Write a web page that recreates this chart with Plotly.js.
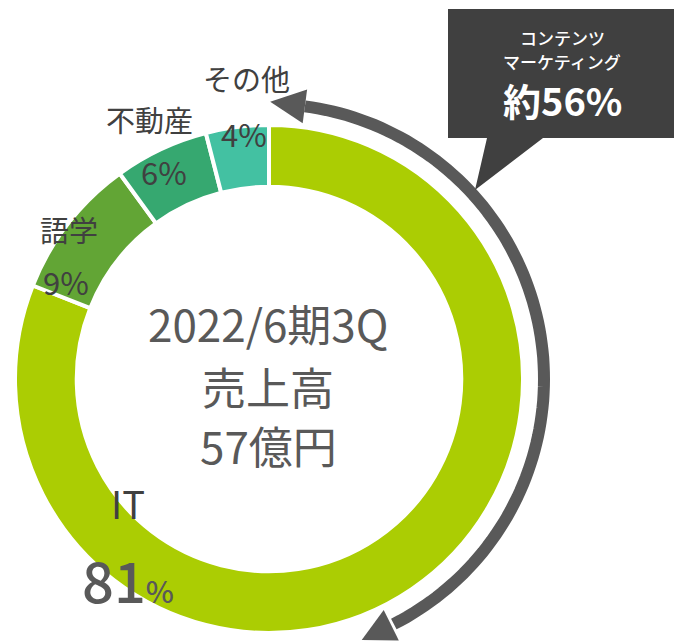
<!DOCTYPE html>
<html>
<head>
<meta charset="utf-8">
<script src="https://cdn.plot.ly/plotly-3.0.1.min.js"></script>
<style>
  html, body { margin: 0; padding: 0; background: #fff; }
  #chart { width: 674px; height: 641px; }
</style>
</head>
<body>
<div id="chart"></div>
<script>
// données
const segments = ['IT', '語学', '不動産', 'その他'];
const shares = [81, 9, 6, 4];
const segColors = ['#abcd03', '#62a535', '#36a870', '#43c1a2'];
const centerLines = ['2022/6期3Q', '売上高', '57億円'];
const calloutLines = ['コンテンツ', 'マーケティング', '約56%'];

const W = 674, H = 641;
const FONT = '"Noto Sans CJK JP", "Noto Sans", sans-serif';

// geometrie du donut (pixels)
const cx = 269, cy = 379, R = 254;

// position des libellés (nom, pourcentage)
const namePos = [[128, 502], [69, 229], [149, 119], [246, 78]];
const pctPos = [[128, 578], [66, 281], [164, 171], [244, 133]];

const pie = {
  type: 'pie',
  labels: segments,
  values: shares,
  sort: false,
  direction: 'clockwise',
  rotation: 0,
  hole: 0.757,
  textinfo: 'none',
  hoverinfo: 'none',
  marker: { colors: segColors, line: { color: '#ffffff', width: 4 } },
  domain: { x: [(cx - R) / W, (cx + R) / W], y: [1 - (cy + R) / H, 1 - (cy - R) / H] },
  showlegend: false
};

// flèche circulaire
function pt(deg, r) {
  const a = deg * Math.PI / 180;
  return [cx + r * Math.sin(a), cy - r * Math.cos(a)];
}
const arcR = 275, a0 = 7.5, a1 = 153.6;
let arc = '';
for (let d = a0; d <= a1 + 0.001; d += 1.5) {
  const p = pt(d, arcR);
  arc += (arc ? ' L' : 'M') + p[0].toFixed(1) + ',' + p[1].toFixed(1);
}
function head(deg, dir, len, wid) {
  const a = deg * Math.PI / 180;
  const b = pt(deg, arcR);
  const t = [dir * Math.cos(a), dir * Math.sin(a)];
  const n = [Math.sin(a), -Math.cos(a)];
  const tip = [b[0] + len * t[0], b[1] + len * t[1]];
  const c1 = [b[0] + n[0] * wid / 2, b[1] + n[1] * wid / 2];
  const c2 = [b[0] - n[0] * wid / 2, b[1] - n[1] * wid / 2];
  return 'M' + tip.join(',') + ' L' + c1.join(',') + ' L' + c2.join(',') + ' Z';
}

const shapes = [
  { type: 'path', xref: 'x', yref: 'y', path: arc, line: { color: '#595959', width: 12 }, layer: 'above' },
  { type: 'path', xref: 'x', yref: 'y', path: head(a0, -1, 35, 34), fillcolor: '#595959', line: { width: 0 }, layer: 'above' },
  { type: 'path', xref: 'x', yref: 'y', path: head(a1, 1, 33, 34), fillcolor: '#595959', line: { width: 0 }, layer: 'above' },
  // bulle
  { type: 'path', xref: 'x', yref: 'y',
    path: 'M448,9 L676,9 L676,138 L543,138 L475,190 L487,138 L448,138 Z',
    fillcolor: '#404040', line: { width: 0 }, layer: 'above' }
];

const annotations = [];
segments.forEach((s, i) => {
  annotations.push({ x: namePos[i][0], y: namePos[i][1], text: s,
    font: { family: FONT, size: i === 0 ? 38 : 29, color: '#404040' } });
  const pct = i === 0
    ? shares[i] + '<span style="font-size:30px">%</span>'
    : shares[i] + '%';
  annotations.push({ x: pctPos[i][0], y: pctPos[i][1], text: pct,
    font: { family: FONT, size: i === 0 ? 56 : 31, color: i === 0 ? '#595959' : '#404040', weight: i === 0 ? 500 : 'normal' } });
});
const centerY = [323, 386, 445];
centerLines.forEach((t, i) => {
  annotations.push({ x: 268, y: centerY[i], text: t, font: { family: FONT, size: 44, color: '#595959' } });
});
const calloutY = [37, 61, 99];
calloutLines.forEach((t, i) => {
  annotations.push({ x: 562, y: calloutY[i], text: t,
    font: { family: FONT, size: i === 2 ? 38 : 17, color: '#ffffff', weight: i === 2 ? 'bold' : 500 } });
});
annotations.forEach(a => { a.xref = 'x'; a.yref = 'y'; a.showarrow = false; a.xanchor = 'center'; a.yanchor = 'middle'; });

const layout = {
  width: W, height: H,
  margin: { l: 0, r: 0, t: 0, b: 0 },
  paper_bgcolor: '#ffffff',
  plot_bgcolor: 'rgba(0,0,0,0)',
  xaxis: { range: [0, W], visible: false, fixedrange: true },
  yaxis: { range: [H, 0], visible: false, fixedrange: true },
  shapes: shapes,
  annotations: annotations
};

Plotly.newPlot('chart', [pie], layout, { displayModeBar: false, staticPlot: true });
</script>
</body>
</html>
